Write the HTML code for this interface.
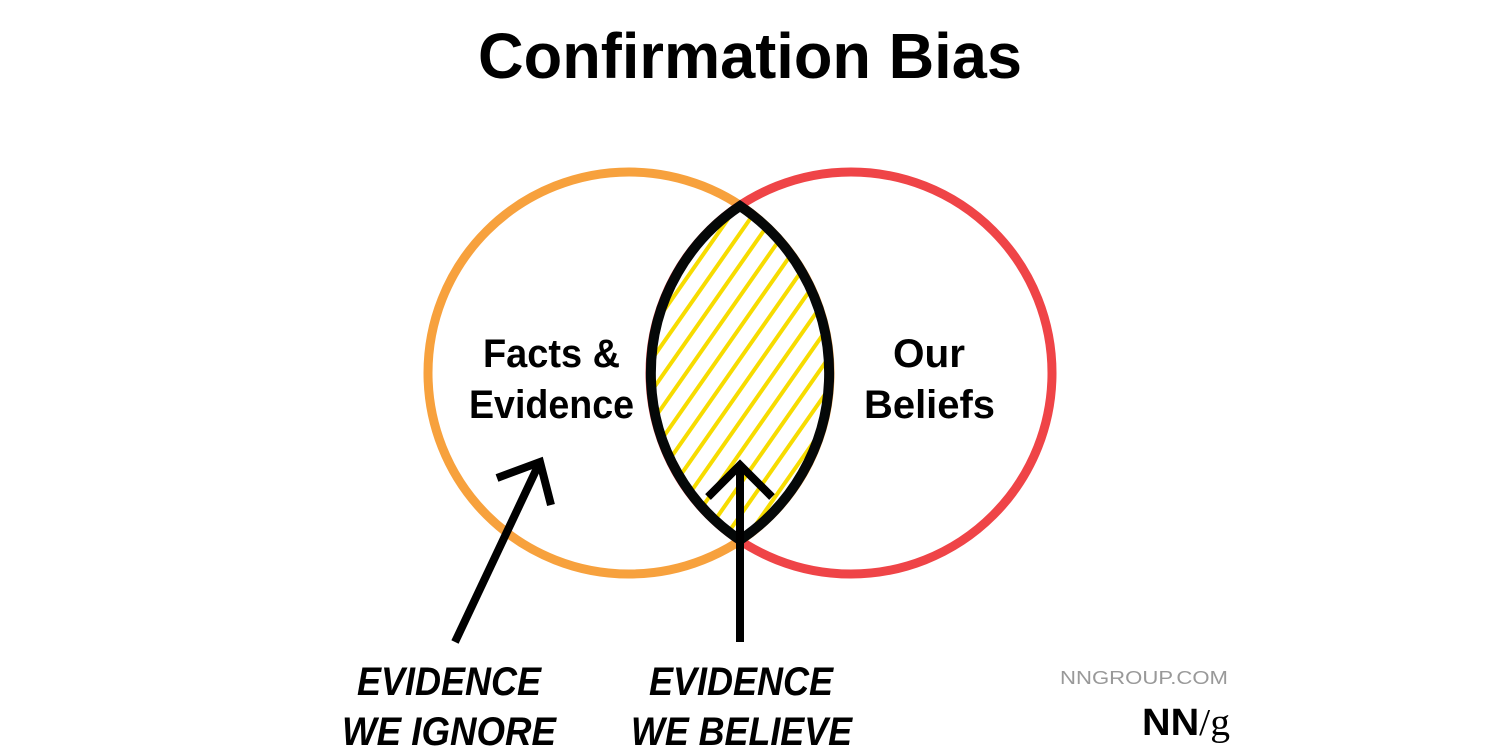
<!DOCTYPE html>
<html><head><meta charset="utf-8"><style>html,body{margin:0;padding:0;background:#fff}svg{display:block}</style></head>
<body>
<svg width="1500" height="750" viewBox="0 0 1500 750" xmlns="http://www.w3.org/2000/svg" font-family="Liberation Sans, sans-serif">
<defs>
<pattern id="h" patternUnits="userSpaceOnUse" width="18" height="18" patternTransform="rotate(35)">
<rect width="18" height="18" fill="#fff"/>
<rect x="0" y="0" width="4" height="18" fill="#f7dc00"/>
</pattern>
<clipPath id="lc"><circle cx="629" cy="373" r="201"/></clipPath>
</defs>
<text x="750" y="78" text-anchor="middle" font-size="64" font-weight="bold" textLength="544" lengthAdjust="spacingAndGlyphs">Confirmation Bias</text>
<circle cx="629" cy="373" r="201" fill="none" stroke="#f7a13d" stroke-width="9"/>
<circle cx="851" cy="373" r="201" fill="none" stroke="#ef4447" stroke-width="9"/>
<circle cx="851" cy="373" r="201" fill="url(#h)" clip-path="url(#lc)"/>
<path d="M740 206 A201 201 0 0 1 740 540 A201 201 0 0 1 740 206 Z" fill="none" stroke="#050808" stroke-width="10" stroke-linejoin="miter"/>
<g font-weight="bold" font-size="40" fill="#000">
<text x="483" y="367" textLength="137" lengthAdjust="spacingAndGlyphs">Facts &amp;</text>
<text x="469" y="418" textLength="165" lengthAdjust="spacingAndGlyphs">Evidence</text>
<text x="893" y="367" textLength="72" lengthAdjust="spacingAndGlyphs">Our</text>
<text x="864" y="418" textLength="131" lengthAdjust="spacingAndGlyphs">Beliefs</text>
</g>
<g stroke="#000" stroke-width="8" fill="none" stroke-linecap="butt">
<line x1="455" y1="642" x2="538" y2="466"/>
<polyline points="497,478 540,462 551,505"/>
<line x1="740" y1="642" x2="740" y2="465"/>
<polyline points="708,497 740,465 772,497"/>
</g>
<g font-weight="bold" font-style="italic" font-size="40" fill="#000">
<text x="357" y="695" textLength="184" lengthAdjust="spacingAndGlyphs">EVIDENCE</text>
<text x="342" y="745" textLength="214" lengthAdjust="spacingAndGlyphs">WE IGNORE</text>
<text x="649" y="695" textLength="184" lengthAdjust="spacingAndGlyphs">EVIDENCE</text>
<text x="631" y="745" textLength="221" lengthAdjust="spacingAndGlyphs">WE BELIEVE</text>
</g>
<text x="1060" y="684" font-size="18" fill="#999" textLength="168" lengthAdjust="spacingAndGlyphs">NNGROUP.COM</text>
<text x="1142" y="735" font-size="38" font-weight="bold" fill="#000" textLength="88" lengthAdjust="spacingAndGlyphs">NN<tspan font-weight="normal" font-family="Liberation Serif, serif">/g</tspan></text>
</svg>
</body></html>
